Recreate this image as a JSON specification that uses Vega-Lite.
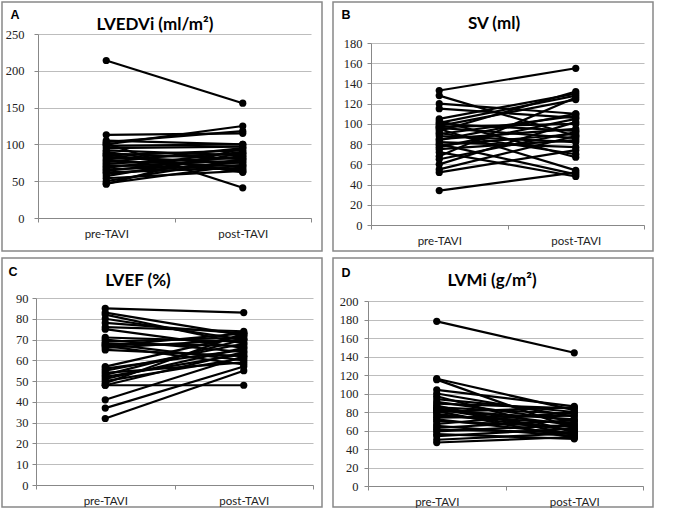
{
  "$schema": "https://vega.github.io/schema/vega-lite/v6.json",
  "padding": {"left": 1, "top": 1, "right": 0, "bottom": 0},
  "background": "white",
  "config": {
    "view": {"stroke": "#888", "strokeWidth": 1.5},
    "axis": {"domainColor": "#888", "tickColor": "#888", "gridColor": "#bdbdbd", "labelColor": "#222", "domainWidth": 1, "gridWidth": 1, "tickSize": 4},
    "axisY": {"labelFont": "Liberation Serif", "labelFontSize": 12.5, "grid": true, "titleAngle": 0, "titleAlign": "left", "titleBaseline": "alphabetic", "titleFont": "Liberation Sans", "titleFontSize": 12.5, "titleFontWeight": "bold", "titleColor": "#000"},
    "axisX": {"labelFont": "Lato", "labelFontSize": 11.5, "labelPadding": 6, "grid": false, "labelAngle": 0, "tickBand": "extent", "title": null},
    "title": {"font": "Lato", "fontSize": 17, "fontWeight": "bold", "color": "#000", "anchor": "middle", "frame": "group"},
    "line": {"color": "black", "strokeWidth": 2.2},
    "point": {"color": "black", "filled": true, "size": 52, "opacity": 1}
  },
  "datasets": {
    "A": [
      {"i":1,"t":"pre-TAVI","v":214},{"i":1,"t":"post-TAVI","v":156},
      {"i":2,"t":"pre-TAVI","v":113},{"i":2,"t":"post-TAVI","v":115},
      {"i":3,"t":"pre-TAVI","v":100},{"i":3,"t":"post-TAVI","v":125},
      {"i":4,"t":"pre-TAVI","v":103},{"i":4,"t":"post-TAVI","v":118},
      {"i":5,"t":"pre-TAVI","v":101},{"i":5,"t":"post-TAVI","v":41},
      {"i":6,"t":"pre-TAVI","v":98},{"i":6,"t":"post-TAVI","v":100},
      {"i":7,"t":"pre-TAVI","v":95},{"i":7,"t":"post-TAVI","v":97},
      {"i":8,"t":"pre-TAVI","v":92},{"i":8,"t":"post-TAVI","v":85},
      {"i":9,"t":"pre-TAVI","v":90},{"i":9,"t":"post-TAVI","v":62},
      {"i":10,"t":"pre-TAVI","v":88},{"i":10,"t":"post-TAVI","v":80},
      {"i":11,"t":"pre-TAVI","v":85},{"i":11,"t":"post-TAVI","v":92},
      {"i":12,"t":"pre-TAVI","v":83},{"i":12,"t":"post-TAVI","v":75},
      {"i":13,"t":"pre-TAVI","v":80},{"i":13,"t":"post-TAVI","v":88},
      {"i":14,"t":"pre-TAVI","v":78},{"i":14,"t":"post-TAVI","v":70},
      {"i":15,"t":"pre-TAVI","v":76},{"i":15,"t":"post-TAVI","v":95},
      {"i":16,"t":"pre-TAVI","v":74},{"i":16,"t":"post-TAVI","v":82},
      {"i":17,"t":"pre-TAVI","v":72},{"i":17,"t":"post-TAVI","v":66},
      {"i":18,"t":"pre-TAVI","v":70},{"i":18,"t":"post-TAVI","v":78},
      {"i":19,"t":"pre-TAVI","v":68},{"i":19,"t":"post-TAVI","v":90},
      {"i":20,"t":"pre-TAVI","v":66},{"i":20,"t":"post-TAVI","v":72},
      {"i":21,"t":"pre-TAVI","v":64},{"i":21,"t":"post-TAVI","v":84},
      {"i":22,"t":"pre-TAVI","v":62},{"i":22,"t":"post-TAVI","v":68},
      {"i":23,"t":"pre-TAVI","v":60},{"i":23,"t":"post-TAVI","v":76},
      {"i":24,"t":"pre-TAVI","v":57},{"i":24,"t":"post-TAVI","v":88},
      {"i":25,"t":"pre-TAVI","v":54},{"i":25,"t":"post-TAVI","v":64},
      {"i":26,"t":"pre-TAVI","v":50},{"i":26,"t":"post-TAVI","v":80},
      {"i":27,"t":"pre-TAVI","v":47},{"i":27,"t":"post-TAVI","v":72},
      {"i":28,"t":"pre-TAVI","v":46},{"i":28,"t":"post-TAVI","v":95},
      {"i":29,"t":"pre-TAVI","v":105},{"i":29,"t":"post-TAVI","v":100},
      {"i":30,"t":"pre-TAVI","v":86},{"i":30,"t":"post-TAVI","v":63}
    ],
    "B": [
      {"i":1,"t":"pre-TAVI","v":133},{"i":1,"t":"post-TAVI","v":155},
      {"i":2,"t":"pre-TAVI","v":128},{"i":2,"t":"post-TAVI","v":88},
      {"i":3,"t":"pre-TAVI","v":120},{"i":3,"t":"post-TAVI","v":110},
      {"i":4,"t":"pre-TAVI","v":115},{"i":4,"t":"post-TAVI","v":106},
      {"i":5,"t":"pre-TAVI","v":105},{"i":5,"t":"post-TAVI","v":130},
      {"i":6,"t":"pre-TAVI","v":103},{"i":6,"t":"post-TAVI","v":67},
      {"i":7,"t":"pre-TAVI","v":101},{"i":7,"t":"post-TAVI","v":128},
      {"i":8,"t":"pre-TAVI","v":100},{"i":8,"t":"post-TAVI","v":93},
      {"i":9,"t":"pre-TAVI","v":98},{"i":9,"t":"post-TAVI","v":124},
      {"i":10,"t":"pre-TAVI","v":97},{"i":10,"t":"post-TAVI","v":100},
      {"i":11,"t":"pre-TAVI","v":96},{"i":11,"t":"post-TAVI","v":86},
      {"i":12,"t":"pre-TAVI","v":95},{"i":12,"t":"post-TAVI","v":54},
      {"i":13,"t":"pre-TAVI","v":93},{"i":13,"t":"post-TAVI","v":132},
      {"i":14,"t":"pre-TAVI","v":91},{"i":14,"t":"post-TAVI","v":70},
      {"i":15,"t":"pre-TAVI","v":90},{"i":15,"t":"post-TAVI","v":108},
      {"i":16,"t":"pre-TAVI","v":88},{"i":16,"t":"post-TAVI","v":82},
      {"i":17,"t":"pre-TAVI","v":85},{"i":17,"t":"post-TAVI","v":95},
      {"i":18,"t":"pre-TAVI","v":82},{"i":18,"t":"post-TAVI","v":77},
      {"i":19,"t":"pre-TAVI","v":80},{"i":19,"t":"post-TAVI","v":50},
      {"i":20,"t":"pre-TAVI","v":79},{"i":20,"t":"post-TAVI","v":90},
      {"i":21,"t":"pre-TAVI","v":77},{"i":21,"t":"post-TAVI","v":105},
      {"i":22,"t":"pre-TAVI","v":75},{"i":22,"t":"post-TAVI","v":84},
      {"i":23,"t":"pre-TAVI","v":72},{"i":23,"t":"post-TAVI","v":48},
      {"i":24,"t":"pre-TAVI","v":68},{"i":24,"t":"post-TAVI","v":126},
      {"i":25,"t":"pre-TAVI","v":65},{"i":25,"t":"post-TAVI","v":92},
      {"i":26,"t":"pre-TAVI","v":60},{"i":26,"t":"post-TAVI","v":102},
      {"i":27,"t":"pre-TAVI","v":55},{"i":27,"t":"post-TAVI","v":88},
      {"i":28,"t":"pre-TAVI","v":52},{"i":28,"t":"post-TAVI","v":74},
      {"i":29,"t":"pre-TAVI","v":34},{"i":29,"t":"post-TAVI","v":52},
      {"i":30,"t":"pre-TAVI","v":84},{"i":30,"t":"post-TAVI","v":110}
    ],
    "C": [
      {"i":1,"t":"pre-TAVI","v":85},{"i":1,"t":"post-TAVI","v":83},
      {"i":2,"t":"pre-TAVI","v":83},{"i":2,"t":"post-TAVI","v":72},
      {"i":3,"t":"pre-TAVI","v":82},{"i":3,"t":"post-TAVI","v":68},
      {"i":4,"t":"pre-TAVI","v":80},{"i":4,"t":"post-TAVI","v":70},
      {"i":5,"t":"pre-TAVI","v":78},{"i":5,"t":"post-TAVI","v":73},
      {"i":6,"t":"pre-TAVI","v":76},{"i":6,"t":"post-TAVI","v":74},
      {"i":7,"t":"pre-TAVI","v":75},{"i":7,"t":"post-TAVI","v":66},
      {"i":8,"t":"pre-TAVI","v":71},{"i":8,"t":"post-TAVI","v":69},
      {"i":9,"t":"pre-TAVI","v":70},{"i":9,"t":"post-TAVI","v":64},
      {"i":10,"t":"pre-TAVI","v":69},{"i":10,"t":"post-TAVI","v":71},
      {"i":11,"t":"pre-TAVI","v":68},{"i":11,"t":"post-TAVI","v":60},
      {"i":12,"t":"pre-TAVI","v":68},{"i":12,"t":"post-TAVI","v":67},
      {"i":13,"t":"pre-TAVI","v":67},{"i":13,"t":"post-TAVI","v":73},
      {"i":14,"t":"pre-TAVI","v":67},{"i":14,"t":"post-TAVI","v":58},
      {"i":15,"t":"pre-TAVI","v":66},{"i":15,"t":"post-TAVI","v":70},
      {"i":16,"t":"pre-TAVI","v":65},{"i":16,"t":"post-TAVI","v":62},
      {"i":17,"t":"pre-TAVI","v":57},{"i":17,"t":"post-TAVI","v":72},
      {"i":18,"t":"pre-TAVI","v":56},{"i":18,"t":"post-TAVI","v":65},
      {"i":19,"t":"pre-TAVI","v":55},{"i":19,"t":"post-TAVI","v":68},
      {"i":20,"t":"pre-TAVI","v":54},{"i":20,"t":"post-TAVI","v":59},
      {"i":21,"t":"pre-TAVI","v":53},{"i":21,"t":"post-TAVI","v":70},
      {"i":22,"t":"pre-TAVI","v":52},{"i":22,"t":"post-TAVI","v":63},
      {"i":23,"t":"pre-TAVI","v":51},{"i":23,"t":"post-TAVI","v":66},
      {"i":24,"t":"pre-TAVI","v":50},{"i":24,"t":"post-TAVI","v":61},
      {"i":25,"t":"pre-TAVI","v":49},{"i":25,"t":"post-TAVI","v":73},
      {"i":26,"t":"pre-TAVI","v":48},{"i":26,"t":"post-TAVI","v":48},
      {"i":27,"t":"pre-TAVI","v":48},{"i":27,"t":"post-TAVI","v":64},
      {"i":28,"t":"pre-TAVI","v":41},{"i":28,"t":"post-TAVI","v":62},
      {"i":29,"t":"pre-TAVI","v":37},{"i":29,"t":"post-TAVI","v":57},
      {"i":30,"t":"pre-TAVI","v":32},{"i":30,"t":"post-TAVI","v":55}
    ],
    "D": [
      {"i":1,"t":"pre-TAVI","v":178},{"i":1,"t":"post-TAVI","v":144},
      {"i":2,"t":"pre-TAVI","v":116},{"i":2,"t":"post-TAVI","v":82},
      {"i":3,"t":"pre-TAVI","v":115},{"i":3,"t":"post-TAVI","v":62},
      {"i":4,"t":"pre-TAVI","v":104},{"i":4,"t":"post-TAVI","v":86},
      {"i":5,"t":"pre-TAVI","v":100},{"i":5,"t":"post-TAVI","v":75},
      {"i":6,"t":"pre-TAVI","v":97},{"i":6,"t":"post-TAVI","v":58},
      {"i":7,"t":"pre-TAVI","v":94},{"i":7,"t":"post-TAVI","v":80},
      {"i":8,"t":"pre-TAVI","v":91},{"i":8,"t":"post-TAVI","v":70},
      {"i":9,"t":"pre-TAVI","v":89},{"i":9,"t":"post-TAVI","v":84},
      {"i":10,"t":"pre-TAVI","v":87},{"i":10,"t":"post-TAVI","v":55},
      {"i":11,"t":"pre-TAVI","v":85},{"i":11,"t":"post-TAVI","v":78},
      {"i":12,"t":"pre-TAVI","v":84},{"i":12,"t":"post-TAVI","v":66},
      {"i":13,"t":"pre-TAVI","v":82},{"i":13,"t":"post-TAVI","v":72},
      {"i":14,"t":"pre-TAVI","v":81},{"i":14,"t":"post-TAVI","v":52},
      {"i":15,"t":"pre-TAVI","v":80},{"i":15,"t":"post-TAVI","v":85},
      {"i":16,"t":"pre-TAVI","v":78},{"i":16,"t":"post-TAVI","v":60},
      {"i":17,"t":"pre-TAVI","v":76},{"i":17,"t":"post-TAVI","v":68},
      {"i":18,"t":"pre-TAVI","v":74},{"i":18,"t":"post-TAVI","v":76},
      {"i":19,"t":"pre-TAVI","v":72},{"i":19,"t":"post-TAVI","v":56},
      {"i":20,"t":"pre-TAVI","v":70},{"i":20,"t":"post-TAVI","v":64},
      {"i":21,"t":"pre-TAVI","v":67},{"i":21,"t":"post-TAVI","v":80},
      {"i":22,"t":"pre-TAVI","v":65},{"i":22,"t":"post-TAVI","v":54},
      {"i":23,"t":"pre-TAVI","v":63},{"i":23,"t":"post-TAVI","v":71},
      {"i":24,"t":"pre-TAVI","v":61},{"i":24,"t":"post-TAVI","v":58},
      {"i":25,"t":"pre-TAVI","v":59},{"i":25,"t":"post-TAVI","v":66},
      {"i":26,"t":"pre-TAVI","v":56},{"i":26,"t":"post-TAVI","v":51},
      {"i":27,"t":"pre-TAVI","v":54},{"i":27,"t":"post-TAVI","v":62},
      {"i":28,"t":"pre-TAVI","v":50},{"i":28,"t":"post-TAVI","v":57},
      {"i":29,"t":"pre-TAVI","v":47},{"i":29,"t":"post-TAVI","v":53},
      {"i":30,"t":"pre-TAVI","v":83},{"i":30,"t":"post-TAVI","v":60}
    ]
  },
  "spacing": 5,
  "vconcat": [
    {
      "spacing": 9,
      "hconcat": [
        {
          "width": 320, "height": 249,
          "data": {"name": "A"},
          "title": {"text": "LVEDVi (ml/m²)", "dx": -7, "offset": -32},
          "mark": {"type": "line", "point": true},
          "encoding": {
            "x": {"field": "t", "type": "nominal", "sort": ["pre-TAVI", "post-TAVI"], "scale": {"type": "band", "range": [36, 309], "paddingInner": 0, "paddingOuter": 0}, "axis": {"offset": -33}},
            "y": {"field": "v", "type": "quantitative", "scale": {"domain": [0, 250], "range": [216, 32], "nice": false}, "axis": {"values": [0, 50, 100, 150, 200, 250], "offset": -36, "title": "A", "titleX": -28, "titleY": 16, "labelPadding": 10}},
            "detail": {"field": "i", "type": "nominal"}
          }
        },
        {
          "width": 320, "height": 249,
          "data": {"name": "B"},
          "title": {"text": "SV (ml)", "dx": 1, "offset": -31},
          "mark": {"type": "line", "point": true},
          "encoding": {
            "x": {"field": "t", "type": "nominal", "sort": ["pre-TAVI", "post-TAVI"], "scale": {"type": "band", "range": [38, 311], "paddingInner": 0, "paddingOuter": 0}, "axis": {"offset": -26}},
            "y": {"field": "v", "type": "quantitative", "scale": {"domain": [0, 180], "range": [223, 41], "nice": false}, "axis": {"values": [0, 20, 40, 60, 80, 100, 120, 140, 160, 180], "offset": -38, "title": "B", "titleX": -30, "titleY": 16, "labelPadding": 5}},
            "detail": {"field": "i", "type": "nominal"}
          }
        }
      ]
    },
    {
      "spacing": 9,
      "hconcat": [
        {
          "width": 320, "height": 249,
          "data": {"name": "C"},
          "title": {"text": "LVEF (%)", "dx": -24, "offset": -32},
          "mark": {"type": "line", "point": true},
          "encoding": {
            "x": {"field": "t", "type": "nominal", "sort": ["pre-TAVI", "post-TAVI"], "scale": {"type": "band", "range": [34, 311], "paddingInner": 0, "paddingOuter": 0}, "axis": {"offset": -22}},
            "y": {"field": "v", "type": "quantitative", "scale": {"domain": [0, 90], "range": [227, 40], "nice": false}, "axis": {"values": [0, 10, 20, 30, 40, 50, 60, 70, 80, 90], "offset": -34, "title": "C", "titleX": -28, "titleY": 17, "labelPadding": 4}},
            "detail": {"field": "i", "type": "nominal"}
          }
        },
        {
          "width": 320, "height": 249,
          "data": {"name": "D"},
          "title": {"text": "LVMi (g/m²)", "dx": -1, "offset": -32},
          "mark": {"type": "line", "point": true},
          "encoding": {
            "x": {"field": "t", "type": "nominal", "sort": ["pre-TAVI", "post-TAVI"], "scale": {"type": "band", "range": [35, 310], "paddingInner": 0, "paddingOuter": 0}, "axis": {"offset": -21}},
            "y": {"field": "v", "type": "quantitative", "scale": {"domain": [0, 200], "range": [228, 43], "nice": false}, "axis": {"values": [0, 20, 40, 60, 80, 100, 120, 140, 160, 180, 200], "offset": -35, "title": "D", "titleX": -27, "titleY": 18, "labelPadding": 6}},
            "detail": {"field": "i", "type": "nominal"}
          }
        }
      ]
    }
  ]
}
